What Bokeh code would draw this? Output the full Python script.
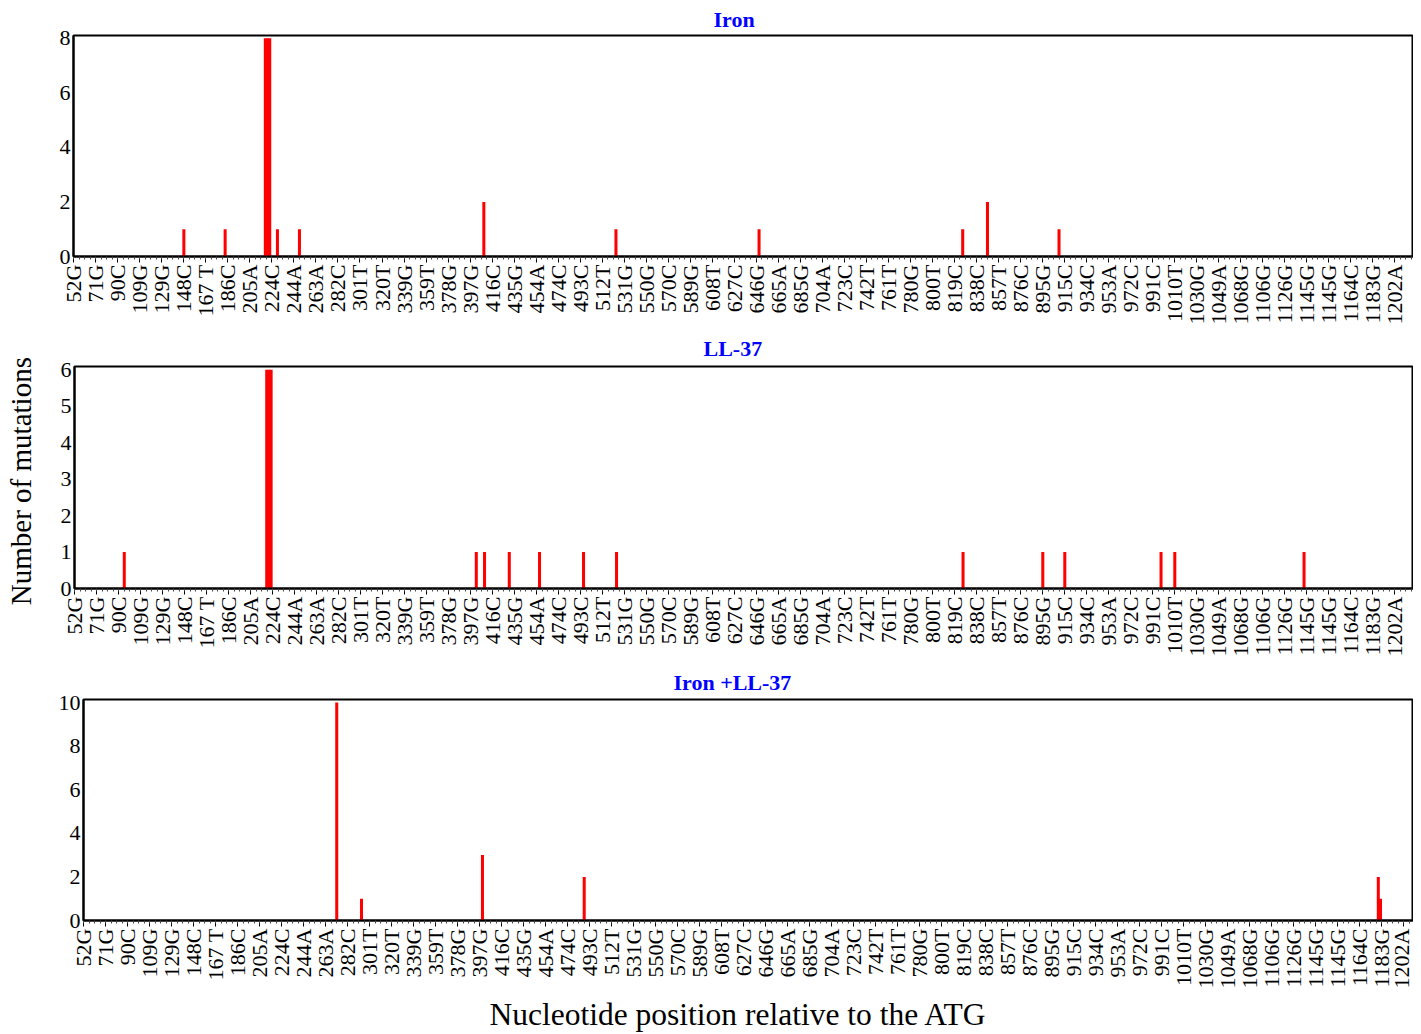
import math
from bokeh.plotting import figure
from bokeh.models import FixedTicker, Range1d, Title
from bokeh.embed import file_html
from bokeh.resources import INLINE

# ---------------- data ----------------
tick_labels = ["52G", "71G", "90C", "109G", "129G", "148C", "167 T", "186C", "205A", "224C",
               "244A", "263A", "282C", "301T", "320T", "339G", "359T", "378G", "397G", "416C",
               "435G", "454A", "474C", "493C", "512T", "531G", "550G", "570C", "589G", "608T",
               "627C", "646G", "665A", "685G", "704A", "723C", "742T", "761T", "780G", "800T",
               "819C", "838C", "857T", "876C", "895G", "915C", "934C", "953A", "972C", "991C",
               "1010T", "1030G", "1049A", "1068G", "1106G", "1126G", "1145G", "1145G", "1164C",
               "1183G", "1202A"]

# position index along the axis (one unit per minor tick, a label every 4 units)
iron_pos = [20, 27.5, 34.8, 35.2, 35.6, 37, 41, 74.5, 98.5, 124.5, 161.5, 166, 179]
iron_val = [1, 1, 8, 8, 8, 1, 1, 2, 1, 1, 1, 2, 1]

ll37_pos = [9, 34.9, 35.3, 35.7, 73, 74.5, 79, 84.5, 92.5, 98.5, 161.5, 176, 180, 197.5, 200, 223.5]
ll37_val = [1, 6, 6, 6, 1, 1, 1, 1, 1, 1, 1, 1, 1, 1, 1, 1]

both_pos = [46, 50.5, 72.5, 91, 235.4, 235.8]
both_val = [10, 1, 3, 2, 2, 1]

FONT = "Liberation Serif"


def make_panel(title, pos, vals, ymax, yticks, xend, height, left, top, bottom,
               title_offset, title_standoff):
    p = figure(width=1413, height=height,
               x_range=Range1d(-0.05, xend), y_range=Range1d(0, ymax),
               output_backend="svg", toolbar_location=None,
               min_border_left=left, min_border_right=0,
               min_border_top=top, min_border_bottom=bottom,
               title=title)
    p.title.align = "left"
    p.title.text_font = FONT
    p.title.text_font_size = "22px"
    p.title.text_font_style = "bold"
    p.title.text_color = "#0000FF"
    p.title.offset = title_offset
    p.title.standoff = title_standoff

    p.vbar(x=pos, top=vals, bottom=0, width=0.55, fill_color="#FF0000", line_color=None)

    p.xgrid.visible = False
    p.ygrid.visible = False
    p.outline_line_color = "black"
    p.outline_line_width = 2
    p.outline_line_alpha = 1
    p.background_fill_color = "white"
    p.border_fill_color = "white"

    major = [4 * i for i in range(len(tick_labels))]
    p.xaxis.ticker = FixedTicker(ticks=major, minor_ticks=list(range(0, int(xend) + 1)))
    p.xaxis.major_label_overrides = {4 * i: lab for i, lab in enumerate(tick_labels)}
    p.xaxis.major_label_orientation = math.pi / 2
    p.xaxis.major_label_text_font = FONT
    p.xaxis.major_label_text_font_size = "22px"
    p.xaxis.major_label_text_color = "black"
    p.xaxis.major_label_standoff = 2
    p.xaxis.major_tick_out = 6
    p.xaxis.major_tick_in = 0
    p.xaxis.minor_tick_out = 3
    p.xaxis.minor_tick_in = 0
    p.xaxis.major_tick_line_color = "black"
    p.xaxis.minor_tick_line_color = "#444444"
    p.xaxis.axis_line_width = 2
    p.xaxis.axis_line_color = "black"

    p.yaxis.ticker = FixedTicker(ticks=yticks, minor_ticks=[])
    p.yaxis.major_label_text_font = FONT
    p.yaxis.major_label_text_font_size = "22px"
    p.yaxis.major_label_text_color = "black"
    p.yaxis.major_label_standoff = 3
    p.yaxis.major_tick_out = 0
    p.yaxis.major_tick_in = 0
    p.yaxis.minor_tick_out = 0
    p.yaxis.minor_tick_in = 0
    p.yaxis.axis_line_width = 2
    p.yaxis.axis_line_color = "black"
    return p


p1 = make_panel("Iron", iron_pos, iron_val, 8.1, [0, 2, 4, 6, 8], 243.4,
                height=328, left=73, top=34, bottom=72, title_offset=640, title_standoff=7.5)
p2 = make_panel("LL-37", ll37_pos, ll37_val, 6.09, [0, 1, 2, 3, 4, 5, 6], 243.4,
                height=334, left=74, top=38, bottom=74, title_offset=629, title_standoff=11)
p3 = make_panel("Iron +LL-37", both_pos, both_val, 10.14, [0, 2, 4, 6, 8, 10], 241.8,
                height=372, left=83, top=37, bottom=114, title_offset=590, title_standoff=10)

p2.yaxis.axis_label = "Number  of mutations"
p2.yaxis.axis_label_text_font = FONT
p2.yaxis.axis_label_text_font_size = "29px"
p2.yaxis.axis_label_text_font_style = "normal"
p2.yaxis.axis_label_text_color = "black"
p2.yaxis.axis_label_standoff = 21

xlabel = Title(text="Nucleotide position relative to the ATG", align="left", offset=406,
               text_font=FONT, text_font_size="31.5px", text_font_style="normal",
               text_color="black", standoff=6)
p3.add_layout(xlabel, "below")

open("out.html", "w").write(file_html([p1, p2, p3], INLINE))
